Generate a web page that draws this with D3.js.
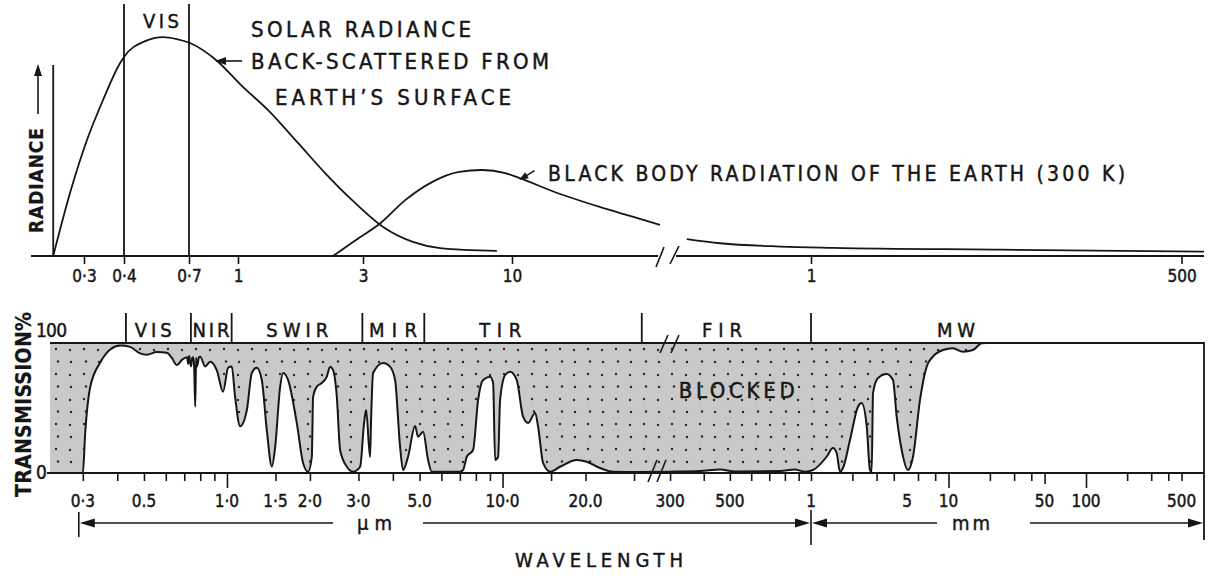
<!DOCTYPE html>
<html>
<head>
<meta charset="utf-8">
<script src="https://cdn.jsdelivr.net/npm/d3@7"></script>
<style>
  html, body { margin: 0; padding: 0; background: #fff; }
  svg { display: block; }
  text { stroke: #161616; stroke-width: 0.45px; }
</style>
</head>
<body>
<svg id="chart" width="1209" height="576"></svg>
<script>
// ---------------- data ----------------
// Solar radiance back-scattered from the Earth's surface (relative units)
const solarWavelength = [0.236, 0.269, 0.3065, 0.344, 0.389, 0.4, 0.48, 0.56, 0.63, 0.705, 0.852, 1.027, 1.30, 1.694, 2.15, 2.72, 3.53, 4.49, 5.59, 8.85];
const solarRadiance   = [0, 28.6, 52.7, 70.9, 87.7, 90.5, 97.7, 99.5, 98.6, 96.8, 89.1, 77.7, 66.4, 51.4, 37.7, 25.5, 13.2, 6.4, 3.6, 2.3];

// Black body radiation of the Earth (300 K), before and after the axis break
const earthWavelength = [2.305, 2.82, 3.46, 4.23, 5.24, 6.52, 7.84, 9.46, 10.6, 14.1, 20.3, 25.9, 33];
const earthRadiance   = [0, 7.3, 15, 25.5, 33.6, 38.2, 39.1, 37.7, 35.5, 29.1, 22.3, 18.2, 14.1];
const earthTailWavelength = [345, 459, 767, 1445, 23700, 730000];
const earthTailRadiance   = [7.7, 5.8, 4.3, 3.7, 2.9, 2.0];

// Atmospheric transmission (%) against wavelength (µm)
const transWavelength = [
  0.228, 0.3, 0.306, 0.319, 0.347, 0.377, 0.41, 0.445, 0.484, 0.512, 0.557, 0.605, 0.631, 0.658, 0.686,
  0.717, 0.723, 0.729, 0.735, 0.741, 0.748, 0.754, 0.760, 0.767, 0.773, 0.779, 0.792, 0.800, 0.833, 0.869,
  0.919, 0.968, 1.010, 1.041, 1.070, 1.116, 1.181, 1.231, 1.284, 1.338, 1.395, 1.455, 1.496, 1.559, 1.599,
  1.667, 1.792, 1.889, 1.970, 2.032, 2.054, 2.118, 2.209, 2.303, 2.367, 2.428, 2.504, 2.574, 2.723, 2.869,
  3.042, 3.145, 3.198, 3.306, 3.334, 3.390, 3.686, 3.906, 4.074, 4.248, 4.356, 4.541, 4.815, 4.937, 5.148,
  5.367, 5.537, 7.013, 7.191, 7.417, 7.817, 8.152, 8.500, 9.013, 9.242, 9.398, 9.636, 9.797, 10.22, 10.65,
  11.26, 11.87, 12.38, 13.13, 13.46, 14.03, 14.88, 16.17, 18.59, 20.21, 22.59, 25.17, 31.5,
  300, 388, 460, 522, 768, 872, 950,
  1034, 1300, 1445, 1537, 1625, 1709, 1921, 2196, 2337, 2544, 2685, 2763, 2825, 3073, 3553, 3946, 4199,
  4566, 5078, 5520, 6205, 6938, 7700, 9122, 10780, 12740, 15060, 17440, 18950, 730000
];
const transPercent = [
  0, 0, 31, 66, 85, 95, 98, 97, 92, 91, 93, 92.5, 88.5, 83, 87,
  89, 84, 90, 85, 82, 88.5, 89, 83, 51, 88.5, 82, 89, 89.5, 82, 85.6,
  79, 62.5, 81, 82, 59, 36, 48.5, 77, 81, 71.5, 33, 5, 20, 66, 77,
  71.5, 38.5, 7.7, 1, 12.5, 58.7, 66.4, 69.2, 74.1, 81.8, 79.2, 58.7, 17.7, 4.8, 1,
  4.8, 38.5, 48.5, 12.3, 40.8, 76.9, 84.6, 81.8, 71.5, 20.2, 2.3, 12.5, 36.2, 27.9, 31.8,
  10, 1, 1, 2.3, 12.5, 17.7, 56.2, 71.5, 74.1, 69.2, 10, 12.5, 56.2, 75.4, 77.9,
  71.5, 43.3, 38.5, 46.2, 35.6, 7.7, 1, 4.8, 10, 8.7, 3.8, 1, 0.8,
  1, 1.5, 2.7, 1.2, 1.5, 2.7, 1,
  2.3, 12.5, 19.2, 15.4, 1, 3.8, 25.4, 51, 53.8, 35.6, 2.3, 1, 61.5, 73.1, 76.2, 71.5, 43.3,
  17.7, 2.3, 12.5, 56.2, 81.8, 89.5, 94.6, 95.9, 93.3, 94.6, 99.8, 100, 100
];

// Spectral regions
const bandNames   = ["VIS", "NIR", "SWIR", "MIR", "TIR", "FIR", "MW"];
const bandEdges   = [0.43, 0.74, 1.04, 3.1, 5.2, 32, 1000];
const bandLabelAt = [0.54, 0.875, 1.8, 4.0, 9.8, 467, 11360];

// Axis ticks and tick labels
const topTickValues = [0.3, 0.4, 0.7, 1, 3, 10, 1000, 500000];
const topTickLabels = ["0·3", "0·4", "0·7", "1", "3", "10", "1", "500"];
const visibleEdges  = [0.4, 0.7];

const bottomTickValues = [0.3, 0.4, 0.5, 0.6, 0.7, 0.8, 0.9, 1, 1.5, 2, 3, 4, 5, 6, 7, 8, 9, 10, 15, 20, 30,
  300, 400, 500, 600, 700, 800, 900, 1000, 2000, 3000, 4000, 6000, 8000,
  10000, 20000, 30000, 40000, 50000, 100000, 200000, 300000, 400000, 500000];
const bottomLongTicks   = [1, 10, 10000, 100000];
const bottomLabelValues = [0.3, 0.5, 1, 1.5, 2, 3, 5, 10, 20, 300, 500, 1000, 5000, 10000, 50000, 100000, 500000];
const bottomLabels      = ["0·3", "0.5", "1·0", "1·5", "2·0", "3·0", "5.0", "10·0", "20.0", "300", "500", "1", "5", "10", "50", "100", "500"];

// ---------------- setup ----------------
const INK = "#161616";
const FONT = '"DejaVu Sans Condensed","DejaVu Sans","Liberation Sans",Arial,sans-serif';
const svg = d3.select("#chart");
svg.append("rect").attr("width", 1209).attr("height", 576).attr("fill", "#fff");

// Broken logarithmic wavelength scales (µm), one per panel
const xTop = d3.scaleLog()
  .domain([0.2, 0.3, 0.4, 0.7, 1, 3, 10, 33, 320, 1000, 1e5, 7.3e5])
  .range([32, 84, 124, 189, 238, 363, 512, 660, 678, 811, 1086, 1204]);
const yTop = d3.scaleLinear().domain([0, 100]).range([256, 36]);

const xBot = d3.scaleLog()
  .domain([0.228, 35, 280, 1000, 1e5, 7.3e5])
  .range([50, 652.5, 662, 811, 1086, 1204]);
const yBot = d3.scaleLinear().domain([0, 100]).range([473, 343]);

function line(g, x1, y1, x2, y2, w) {
  return g.append("line").attr("x1", x1).attr("y1", y1).attr("x2", x2).attr("y2", y2)
    .attr("stroke", INK).attr("stroke-width", w || 1.8).attr("stroke-linecap", "butt");
}
function text(g, str, x, y, size, opts) {
  opts = opts || {};
  const t = g.append("text").attr("x", x).attr("y", y).attr("font-size", size)
    .attr("font-family", FONT).attr("fill", INK)
    .attr("text-anchor", opts.anchor || "start").text(str);
  if (opts.len) t.attr("textLength", opts.len).attr("lengthAdjust", "spacing");
  if (opts.weight) t.attr("font-weight", opts.weight).style("stroke-width", "0.2px");
  if (opts.transform) t.attr("transform", opts.transform);
  return t;
}
function arrowHead(g, x, y, dx, dy, len, half) {
  // tip at (x,y); (dx,dy) is the unit direction the arrow points to
  const bx = x - dx * len, by = y - dy * len;
  const px = -dy * half, py = dx * half;
  g.append("path")
    .attr("d", `M${x},${y}L${bx + px},${by + py}L${bx - px},${by - py}Z`)
    .attr("fill", INK);
}

// dotted grey fill for the blocked part of the spectrum
const defs = svg.append("defs");
const pat = defs.append("pattern").attr("id", "dots")
  .attr("patternUnits", "userSpaceOnUse").attr("width", 28).attr("height", 25)
  .attr("x", 50).attr("y", 343);
[[6, 6], [20, 7], [8, 18.5], [21, 19]].forEach(([cx, cy]) =>
  pat.append("circle").attr("cx", cx).attr("cy", cy).attr("r", 1.2).attr("fill", "#262626"));

// ---------------- upper panel: radiance ----------------
const gTop = svg.append("g");
const y0 = yTop(0);
const topEnd = xTop.range()[xTop.range().length - 1];

line(gTop, xTop.range()[0] - 1, y0, xTop(33) - 2, y0);
line(gTop, xTop(320) - 2, y0, topEnd, y0);
{
  const cx = (xTop(33) + xTop(320)) / 2;
  line(gTop, cx - 13, y0 + 11, cx - 5, y0 - 9, 1.6);
  line(gTop, cx + 1, y0 + 8, cx + 10, y0 - 10, 1.6);
}

const topAxis = gTop.append("g").attr("transform", `translate(0,${y0})`)
  .call(d3.axisBottom(xTop).tickValues(topTickValues)
    .tickFormat((d, i) => topTickLabels[i]).tickSize(8).tickPadding(6));
topAxis.select(".domain").remove();
topAxis.attr("font-family", FONT).attr("font-size", 17);
topAxis.selectAll("line").attr("stroke", INK).attr("stroke-width", 1.6);
topAxis.selectAll("text").attr("fill", INK);

// visible band limits
visibleEdges.forEach(v => line(gTop, xTop(v), 4, xTop(v), y0));
text(gTop, "VIS", xTop(0.55), 28, 20, { anchor: "middle", len: 36 });

// radiance axis
line(gTop, xTop(solarWavelength[0]), 65, xTop(solarWavelength[0]), y0);
text(gTop, "RADIANCE", 0, 0, 19, { anchor: "middle", len: 105, weight: "bold",
  transform: `translate(43,180.5) rotate(-90)` });
line(gTop, 38, 114, 38, 74, 1.6);
arrowHead(gTop, 38, 64, 0, -1, 12, 4);

const radLine = d3.line().x(d => xTop(d[0])).y(d => yTop(d[1])).curve(d3.curveMonotoneX);
gTop.append("path").attr("d", radLine(d3.zip(solarWavelength, solarRadiance)))
  .attr("fill", "none").attr("stroke", INK).attr("stroke-width", 1.8);
gTop.append("path").attr("d", radLine(d3.zip(earthWavelength, earthRadiance)))
  .attr("fill", "none").attr("stroke", INK).attr("stroke-width", 1.8);
gTop.append("path").attr("d", radLine(d3.zip(earthTailWavelength, earthTailRadiance)))
  .attr("fill", "none").attr("stroke", INK).attr("stroke-width", 1.8);

// annotations
text(gTop, "SOLAR RADIANCE", 251, 37, 22, { len: 220 });
text(gTop, "BACK-SCATTERED FROM", 251, 69, 22, { len: 298 });
text(gTop, "EARTH\u2019S SURFACE", 275, 105, 22, { len: 236 });
{
  const tx = xTop(solarWavelength[10]) - 1, ty = yTop(solarRadiance[10]) + 1;
  line(gTop, tx + 8, ty, tx + 27, ty, 1.6);
  arrowHead(gTop, tx, ty, -1, 0, 11, 4);
}
text(gTop, "BLACK BODY RADIATION OF THE EARTH (300 K)", 548, 181, 21, { len: 577 });
{
  const tx = xTop(earthWavelength[8]), ty = yTop(earthRadiance[8]) + 2;
  const ux = 0.857, uy = -0.514;
  line(gTop, tx + ux * 6, ty + uy * 6, tx + ux * 18, ty + uy * 18, 1.6);
  arrowHead(gTop, tx, ty, -ux, -uy, 9, 3.6);
}

// ---------------- lower panel: transmission ----------------
const gBot = svg.append("g");
const yT = yBot(100), yB = yBot(0);
const botEnd = xBot.range()[xBot.range().length - 1];
const transData = d3.zip(transWavelength, transPercent);

const area = d3.area().x(d => xBot(d[0])).y0(yT).y1(d => yBot(d[1])).curve(d3.curveMonotoneX);
gBot.append("path").attr("d", area(transData)).attr("fill", "#c9c9c9");
gBot.append("path").attr("d", area(transData)).attr("fill", "url(#dots)");
gBot.append("path")
  .attr("d", d3.line().x(d => xBot(d[0])).y(d => yBot(d[1])).curve(d3.curveMonotoneX)(transData))
  .attr("fill", "none").attr("stroke", INK).attr("stroke-width", 2).attr("stroke-linejoin", "round");

// frame
line(gBot, xBot.range()[0], yT, botEnd, yT, 2);
line(gBot, xBot.range()[0] - 3, yB, botEnd, yB, 2);
line(gBot, botEnd, yT - 1, botEnd, 540, 1.8);

// band separators and names
bandEdges.forEach(e => line(gBot, xBot(e), 313, xBot(e), yT, 1.8));
const bandLen = [37, 37, 62, 48, 42, 40, 38];
bandNames.forEach((n, i) => text(gBot, n, xBot(bandLabelAt[i]), 337, 20, { anchor: "middle", len: bandLen[i] }));

text(gBot, "BLOCKED", xBot(530), 398, 22, { anchor: "middle", len: 116 });

// axis breaks
{
  const cx = 670;
  line(gBot, cx - 10, yT + 10, cx - 2, yT - 8, 1.6);
  line(gBot, cx + 1, yT + 10, cx + 9, yT - 8, 1.6);
  const bx = 658;
  line(gBot, bx - 10, yB + 9, bx - 1, yB - 13, 1.6);
  line(gBot, bx - 1, yB + 9, bx + 8, yB - 13, 1.6);
}

// ticks
const botAxis = gBot.append("g").attr("transform", `translate(0,${yB})`)
  .call(d3.axisBottom(xBot).tickValues(bottomTickValues).tickFormat("").tickSize(8));
botAxis.select(".domain").remove();
botAxis.selectAll("line").attr("stroke", INK).attr("stroke-width", 1.6)
  .attr("y2", d => bottomLongTicks.includes(d) ? 15 : (d === 50000 ? 11 : 8));

gBot.selectAll("text.xlab").data(bottomLabelValues).join("text")
  .attr("class", "xlab")
  .attr("x", d => xBot(d)).attr("y", 507)
  .attr("text-anchor", "middle").attr("font-family", FONT).attr("font-size", 17)
  .attr("fill", INK).text((d, i) => bottomLabels[i]);

// y labels
text(gBot, "100", 36, 337, 19, { len: 31 });
text(gBot, "0", 36, 479, 19);
text(gBot, "TRANSMISSION%", 0, 0, 21, { anchor: "middle", len: 185, weight: "bold",
  transform: `translate(31,404.5) rotate(-90)` });

// unit ranges (µm | mm)
{
  const ya = 523;
  const xl = xBot(0.29), xm = xBot(1000), xr = botEnd - 1;
  line(gBot, xl, 512, xl, 537, 1.6);
  line(gBot, xm, 510, xm, 545, 1.6);
  line(gBot, xl + 10, ya, 333, ya, 1.6);
  line(gBot, 423, ya, xm - 12, ya, 1.6);
  arrowHead(gBot, xl + 1, ya, -1, 0, 15, 4.5);
  arrowHead(gBot, xm - 1, ya, 1, 0, 15, 4.5);
  line(gBot, xm + 12, ya, 937, ya, 1.6);
  line(gBot, 1030, ya, xr - 12, ya, 1.6);
  arrowHead(gBot, xm + 1, ya, -1, 0, 15, 4.5);
  arrowHead(gBot, xr, ya, 1, 0, 15, 4.5);
  text(gBot, "\u00b5m", 374.5, 530, 20, { anchor: "middle", len: 35 });
  text(gBot, "mm", 971, 530, 20, { anchor: "middle", len: 38 });
}

text(gBot, "WAVELENGTH", 599, 567, 20, { anchor: "middle", len: 168 });
</script>
</body>
</html>
